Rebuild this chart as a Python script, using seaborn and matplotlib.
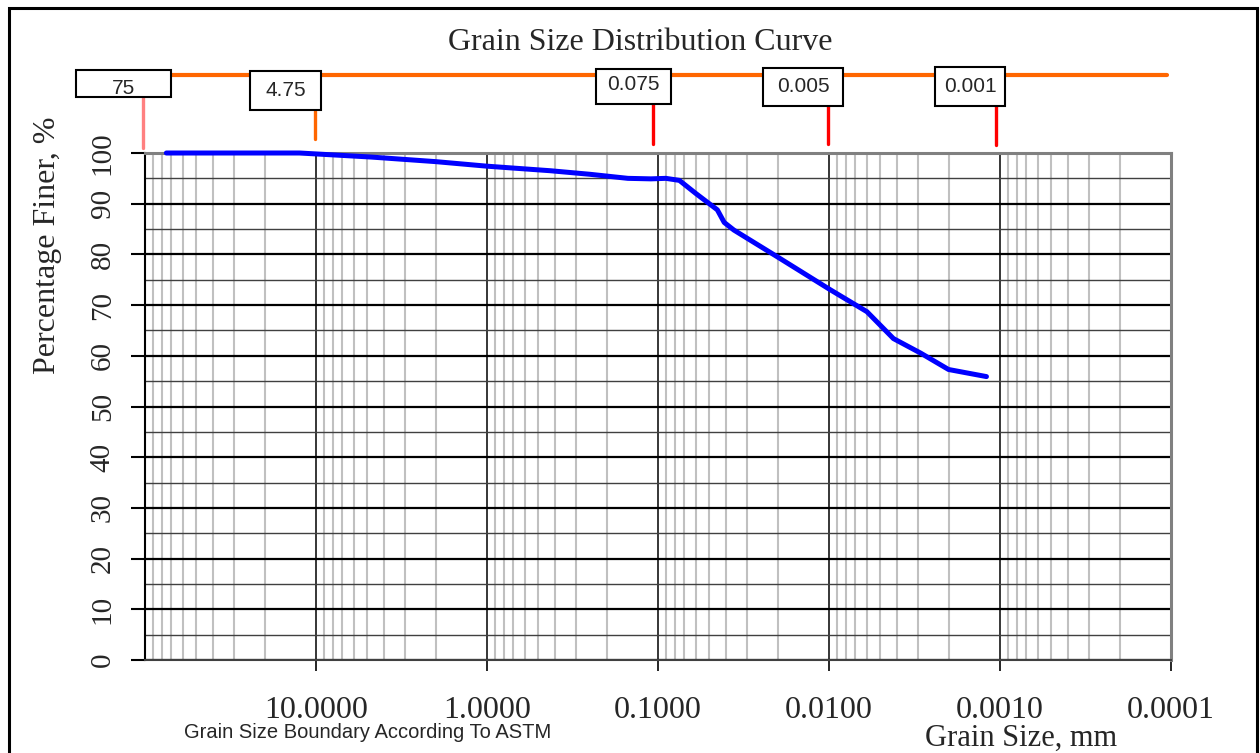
import pandas as pd
import matplotlib.pyplot as plt
import seaborn as sns
from matplotlib.lines import Line2D
from matplotlib.patches import Rectangle
from matplotlib.ticker import FixedLocator, NullFormatter

grain_size_mm = [75, 25, 12.5, 4.75, 2.0, 1.0, 0.425, 0.25, 0.15, 0.11, 0.09, 0.075,
                 0.06, 0.045, 0.041, 0.036, 0.02, 0.0098, 0.006, 0.0042, 0.0029, 0.002, 0.0012]
percent_finer = [100, 100, 100, 99.2, 98.3, 97.4, 96.5, 95.8, 95.0, 94.9, 95.0, 94.6,
                 92.0, 88.8, 86.3, 84.8, 79.5, 73.0, 68.7, 63.4, 60.5, 57.3, 55.9]

x_ticks = [10, 1, 0.1, 0.01, 0.001, 0.0001]
x_tick_labels = ["10.0000", "1.0000", "0.1000", "0.0100", "0.0010", "0.0001"]
y_ticks = list(range(0, 101, 10))

astm_labels = ["75", "4.75", "0.075", "0.005", "0.001"]

# cajas ASTM en pixeles: x0, y0, x1, y1, y del texto, x de la marca, y0/y1 de la marca, color
W, H = 1260, 753
cajas = [
    (76, 70, 171, 97, 88, 143, 97, 148, "#ff8080"),
    (250, 71, 321, 110, 91, 315, 111, 139, "#ff6600"),
    (596, 69, 671, 104, 85, 653, 104, 144, "#ff0000"),
    (763, 68, 843, 106, 87, 828, 106, 144, "#ff0000"),
    (935, 67, 1005, 106, 86, 996, 106, 145, "#ff0000"),
]


def fx(px):
    return px / W


def fy(py):
    return 1 - py / H


df = pd.DataFrame({"size": grain_size_mm, "finer": percent_finer})

sns.set_style("white")
plt.rcParams["font.family"] = ["Liberation Serif", "DejaVu Serif"]

fig = plt.figure(figsize=(12.6, 7.53), dpi=100)
ax = fig.add_axes([fx(145), fy(660), fx(1171) - fx(145), (660 - 153) / H])

sns.lineplot(data=df, x="size", y="finer", sort=False, color="#0000ff", lw=3.6,
             ax=ax, zorder=10, clip_on=False)

ax.set_xscale("log")
ax.set_xlim(100, 0.0001)
ax.set_ylim(0, 100)

ax.xaxis.set_major_locator(FixedLocator(x_ticks))
ax.set_xticklabels(x_tick_labels)
minors = [m * 10.0 ** e for e in range(-4, 2) for m in range(2, 10)]
ax.xaxis.set_minor_locator(FixedLocator(minors))
ax.xaxis.set_minor_formatter(NullFormatter())
ax.set_yticks(y_ticks)
ax.set_yticks(list(range(5, 100, 10)), minor=True)
ax.set_xlabel("")
ax.set_ylabel("")

# rejilla
ax.grid(which="minor", axis="x", color="#c0c0c0", lw=1.5, zorder=1)
ax.grid(which="major", axis="x", color="black", lw=1.1, zorder=2)
ax.grid(which="minor", axis="y", color="#404040", lw=1.0, zorder=2)
ax.grid(which="major", axis="y", color="black", lw=1.6, zorder=3)
ax.set_axisbelow(True)

ax.tick_params(axis="x", which="major", direction="out", length=8, width=1.2,
               color="black", labelsize=23, pad=18, bottom=True)
ax.tick_params(axis="x", which="minor", length=0)
ax.tick_params(axis="y", which="major", direction="out", length=10, width=1.5,
               color="black", labelsize=21, pad=11, left=True)
ax.tick_params(axis="y", which="minor", length=0)
for lab in ax.get_yticklabels():
    lab.set_rotation(90)
    lab.set_va("center")

for side in ["left", "bottom"]:
    ax.spines[side].set_color("black")
    ax.spines[side].set_linewidth(1.5)
ax.spines["bottom"].set_color("#404040")
for side in ["top", "right"]:
    ax.spines[side].set_color("#808080")
    ax.spines[side].set_linewidth(2.2)

# textos
fig.text(fx(640), fy(42), "Grain Size Distribution Curve", ha="center", va="center", fontsize=23)
fig.text(fx(48), fy(245), "Percentage Finer, %", rotation=90, ha="center", va="center", fontsize=23)
fig.text(fx(1021), fy(746), "Grain Size, mm", ha="center", va="baseline", fontsize=22)
fig.text(fx(368), fy(733), "Grain Size Boundary According To ASTM", ha="center", va="center",
         fontsize=14.5, family=["Liberation Sans", "DejaVu Sans"])

# linea naranja y cajas ASTM
fig.add_artist(Line2D([fx(120), fx(1167)], [fy(74.5), fy(74.5)], color="#ff6600", lw=3, zorder=1))
for lab, (x0, y0, x1, y1, ty, tx, t0, t1, col) in zip(astm_labels, cajas):
    fig.add_artist(Line2D([fx(tx), fx(tx)], [fy(t0), fy(t1)], color=col, lw=2.4, zorder=1))
    fig.add_artist(Rectangle((fx(x0), fy(y1)), fx(x1) - fx(x0), (y1 - y0) / H,
                             transform=fig.transFigure, facecolor="white",
                             edgecolor="black", lw=1.5, zorder=2))
    fig.text(fx((x0 + x1) / 2), fy(ty), lab, ha="center", va="center", fontsize=15,
             family=["Liberation Sans", "DejaVu Sans"], zorder=3)

# marco exterior
fig.add_artist(Rectangle((fx(9), fy(760)), fx(1257) - fx(9), (760 - 8) / H,
                         transform=fig.transFigure, facecolor="none",
                         edgecolor="black", lw=2.2, clip_on=False))

fig.savefig("out.png", dpi=100)
